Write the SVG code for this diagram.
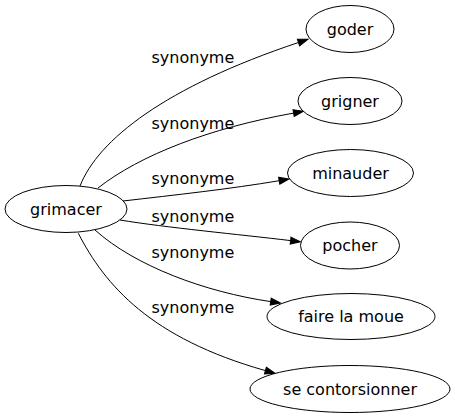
<svg xmlns="http://www.w3.org/2000/svg" width="455" height="419" viewBox="0 0 455 419">
<style>
.node ellipse{fill:#fff;stroke:#000;stroke-width:1}
.node text{font-family:"DejaVu Sans",Verdana,sans-serif;font-size:16px;text-anchor:middle;fill:#000}
.edge path{fill:none;stroke:#000;stroke-width:1;marker-end:url(#arr)}
.lbl{font-family:"DejaVu Sans",Verdana,sans-serif;font-size:16px;fill:#000}
</style>
<defs>
<marker id="arr" markerUnits="userSpaceOnUse" markerWidth="12" markerHeight="9" viewBox="-1 -1 12 9" refX="0" refY="3.5" orient="auto" overflow="visible">
<path d="M0,0 L10,3.5 L0,7 Z" fill="#000" stroke="#000" stroke-width="1"/>
</marker>
</defs>
<rect width="455" height="419" fill="#fff"/>
<g id="edges" class="edge">
<path d="M80,186 C98,140 165,87 298.5,42.5"/>
<path d="M98,188 C140,155 210,128 293.6,113.1"/>
<path d="M123,201 C175,195 230,189 279.2,180.7"/>
<path d="M120,220 C165,227.5 240,234.5 290.6,240.6"/>
<path d="M95,230 C135,266 205,292 270.7,301.6"/>
<path d="M78.3,233.3 C105,285 150,338 265.4,370.6"/>
<text class="lbl" x="151.5" y="62.7">synonyme</text>
<text class="lbl" x="151.5" y="129.3">synonyme</text>
<text class="lbl" x="151.5" y="184.3">synonyme</text>
<text class="lbl" x="151.5" y="221.7">synonyme</text>
<text class="lbl" x="151.5" y="258.3">synonyme</text>
<text class="lbl" x="151.5" y="313.3">synonyme</text>
</g>
<g id="grimacer" class="node"><ellipse cx="66" cy="209" rx="61" ry="23.5"/><text x="66" y="214.5">grimacer</text></g>
<g id="goder" class="node"><ellipse cx="350" cy="29" rx="44" ry="23.5"/><text x="350" y="34.5">goder</text></g>
<g id="grigner" class="node"><ellipse cx="350" cy="101" rx="52" ry="23.5"/><text x="350" y="106.5">grigner</text></g>
<g id="minauder" class="node"><ellipse cx="350.5" cy="173" rx="63" ry="23.5"/><text x="350.5" y="178.5">minauder</text></g>
<g id="pocher" class="node"><ellipse cx="350" cy="245.5" rx="49.5" ry="23.5"/><text x="350" y="251">pocher</text></g>
<g id="faire-la-moue" class="node"><ellipse cx="351" cy="316.5" rx="84" ry="23"/><text x="351" y="322">faire la moue</text></g>
<g id="se-contorsionner" class="node"><ellipse cx="350" cy="389" rx="100" ry="23.5"/><text x="350" y="394.5">se contorsionner</text></g>
</svg>
